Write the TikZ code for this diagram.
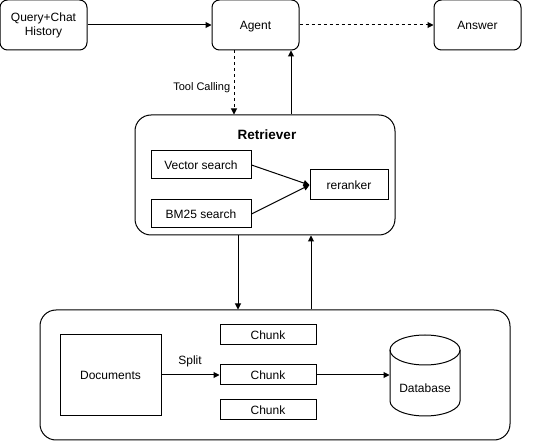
\documentclass[tikz,border=0pt]{standalone}
\usepackage{fontspec}
\setmainfont{Liberation Sans}
\usetikzlibrary{arrows.meta}
\begin{document}
\begin{tikzpicture}[x=1pt,y=-1pt,line width=1pt,
  every node/.style={font=\fontsize{12}{14}\selectfont},
  th/.style={text height=10.9pt,text depth=2.5pt},
  rbox/.style={draw,rectangle,rounded corners=7.5pt,minimum width=87pt,minimum height=50pt,align=center,inner sep=0pt},
  sbox/.style={draw,rectangle,inner sep=0pt,th},
  big/.style={draw,rectangle,rounded corners=16pt,inner sep=0pt},
  arr/.style={-{Triangle[length=6pt,width=6pt]}},
  dsh/.style={dash pattern=on 3pt off 3pt}]
\useasboundingbox (0,0) rectangle (542,441);
% top row
\node[rbox] (query) at (43.5,25) {Query+Chat\\History};
\node[rbox,th] (agent) at (255.5,25) {Agent};
\node[rbox,th] (answer) at (477.5,25) {Answer};
% retriever
\node[big,minimum width=260pt,minimum height=120pt] (retr) at (265,175) {};
\node[font=\bfseries\fontsize{13.5}{16}\selectfont] (rtitle) at (267,135) {Retriever};
\node[sbox,minimum width=100pt,minimum height=28pt] (vec) at (201,165) {Vector search};
\node[sbox,minimum width=100pt,minimum height=28pt] (bm) at (201,214) {BM25 search};
\node[sbox,minimum width=78pt,minimum height=30pt] (rr) at (349,185) {reranker};
% bottom
\node[big,minimum width=470pt,minimum height=130pt] (bot) at (275,375) {};
\node[sbox,minimum width=101pt,minimum height=81pt] (docs) at (110.5,375.5) {Documents};
\node[sbox,minimum width=96pt,minimum height=20pt] (c1) at (268,335) {Chunk};
\node[sbox,minimum width=96pt,minimum height=20pt] (c2) at (268,375) {Chunk};
\node[sbox,minimum width=96pt,minimum height=20pt] (c3) at (268,410) {Chunk};
\node[rectangle,minimum width=70pt,minimum height=81pt,inner sep=0pt] (db) at (425,375.5) {};
\draw (390,350) -- (390,401) arc[start angle=180,end angle=0,x radius=35,y radius=15] -- (460,350);
\draw (425,350) ellipse[x radius=35,y radius=15];
\node[th] (dbl) at (425,388) {Database};
% coordinates
\coordinate (tc) at (234,0);
\coordinate (up1) at (291,0);
\coordinate (dn) at (238,0);
\coordinate (up2) at (311,0);
% connectors
\draw[arr] (query.east) -- (agent.west);
\draw[arr,dsh] (agent.east) -- (answer.west);
\draw[arr,dsh] (agent.south -| tc) -- (retr.north -| tc);
\node[anchor=east,font=\fontsize{11}{13}\selectfont] (tcl) at (234,88) {Tool Calling};
\draw[arr] (retr.north -| up1) -- (agent.south -| up1);
\draw[arr] (vec.east) -- (rr.west);
\draw[arr] (bm.east) -- (rr.west);
\draw[arr] (retr.south -| dn) -- (bot.north -| dn);
\draw[arr] (bot.north -| up2) -- (retr.south -| up2);
\draw[arr] (docs.east |- c2) -- (c2.west);
\node[th] (split) at (190,360) {Split};
\draw[arr] (c2.east) -- (db.west |- c2);
\end{tikzpicture}
\end{document}
